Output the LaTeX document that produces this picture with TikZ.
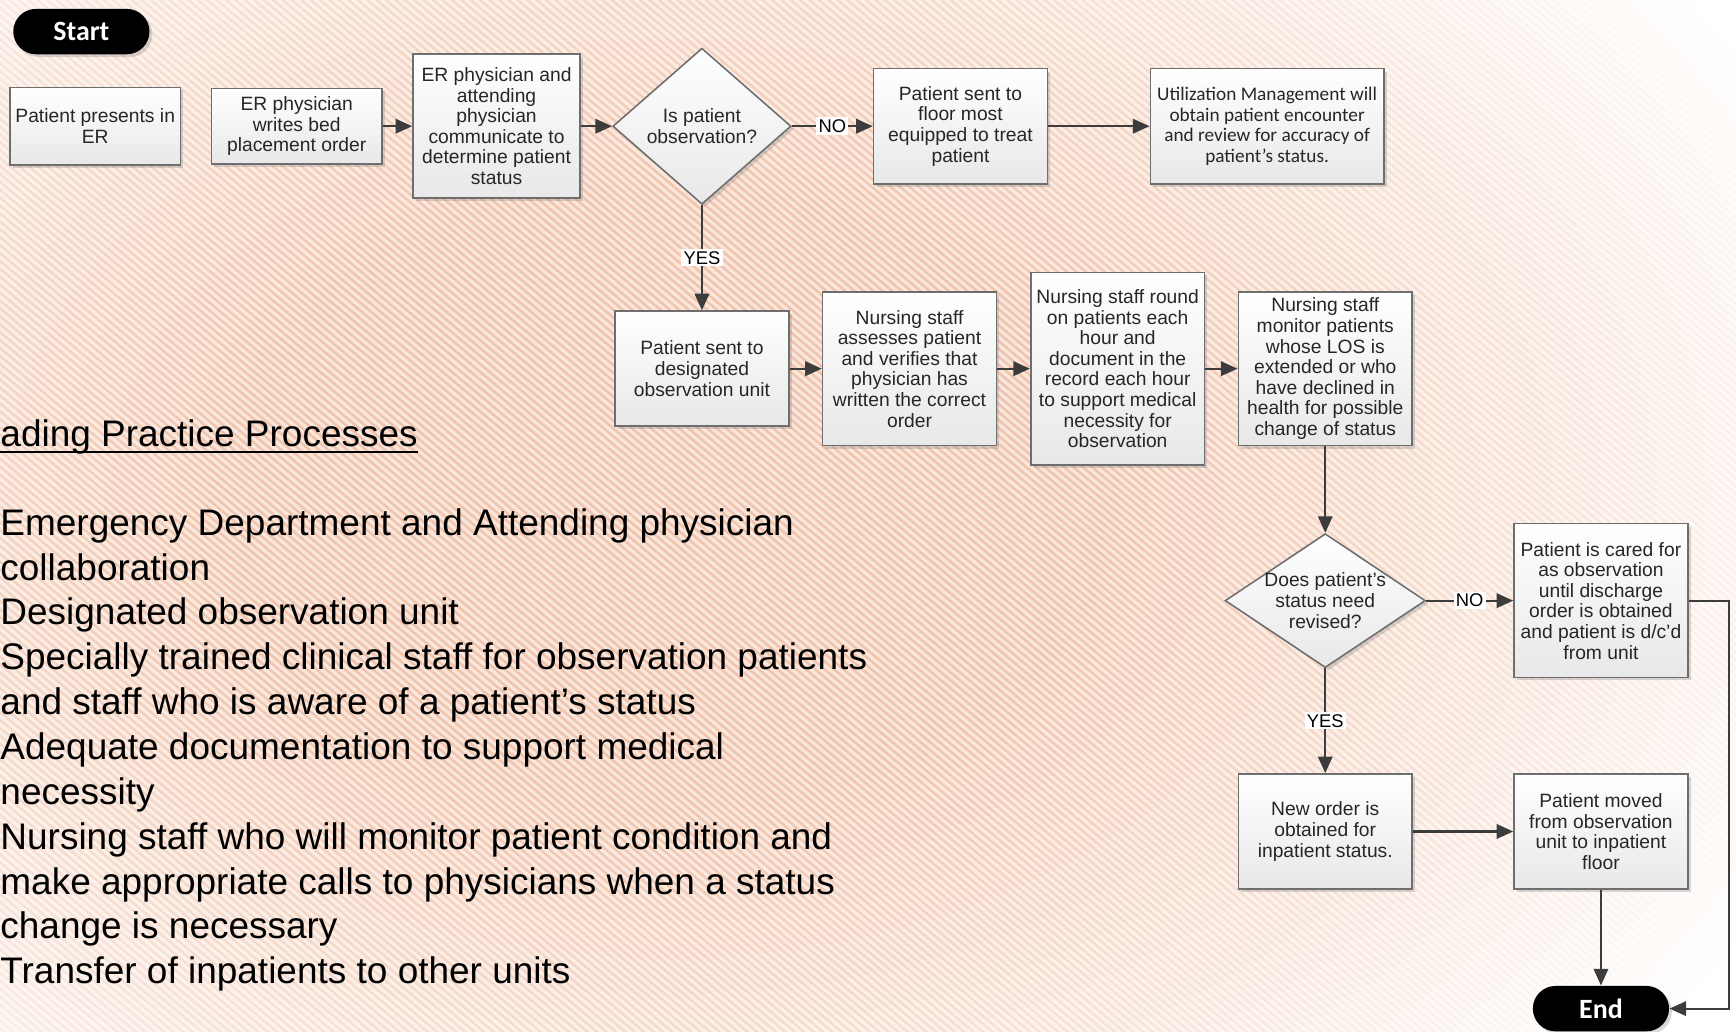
\documentclass[tikz,border=0pt]{standalone}
\usepackage{fontspec}
\setmainfont{Liberation Sans}
\newfontfamily\calfont{Carlito}
\usetikzlibrary{arrows.meta,shapes.geometric,shapes.misc,shadows}
\definecolor{glow}{RGB}{241,196,171}
\definecolor{edgegray}{RGB}{110,110,110}
\definecolor{linegray}{RGB}{60,60,60}
\definecolor{txtgray}{RGB}{38,38,38}

\begin{document}
\begin{tikzpicture}[x=0.5pt,y=-0.5pt,
  every node/.style={font=\fontsize{8.7}{9.3}\selectfont,text=txtgray},
  proc/.style={draw=edgegray,line width=.7pt,top color=white,bottom color=black!9,align=center,
    minimum width=78.5pt,inner xsep=2pt,inner ysep=1pt,
    drop shadow={shadow xshift=1.3pt,shadow yshift=-1.3pt,opacity=.3}},
  decision/.style={diamond,draw=edgegray,line width=.7pt,top color=white,bottom color=black!9,
    align=center,inner sep=0pt,
    drop shadow={shadow xshift=1.3pt,shadow yshift=-1.3pt,opacity=.3}},
  term/.style={rounded rectangle,fill=black,text=white,font=\calfont\bfseries\fontsize{12.6}{14}\selectfont,
    minimum width=61.5pt,minimum height=20.5pt,inner sep=0pt,
    drop shadow={shadow xshift=1.3pt,shadow yshift=-1.3pt,opacity=.3}},
  flow/.style={draw=linegray,line width=1pt,-{Triangle[length=7.5pt,width=6.5pt]}},
  yn/.style={fill=white,inner sep=1pt,font=\fontsize{8.3}{9}\selectfont,text=black},
  stripe/.style={white,opacity=.6,line width=1.45pt},
  listtxt/.style={anchor=base west,inner sep=0pt,text=black,font=\fontsize{16.7}{20}\selectfont}]
\useasboundingbox (0,0) rectangle (1568,932);

% background
\begin{scope}
\clip (0,0) rectangle (1568,932);
\fill[white] (0,0) rectangle (1568,932);
\foreach \k in {0,...,32}{
  \pgfmathsetmacro\r{1-\k*0.02}
  \pgfmathsetmacro\p{min(100,(1-\r)/0.64*100)}
  \fill[glow!\p!white] (600,450) ellipse [x radius={1150*\r}, y radius={800*\r}];
}
\foreach \s in {-1200,-1191.5,...,1600}
  \draw[stripe] (\s,-5) -- ++(1130,950);
\end{scope}

% terminals
\node[term] (start) at (73.5,28.5) {Start};
\node[term] (finish) at (1446,911) {End};

% first row
\node[proc,minimum width=77pt,minimum height=35pt] (presents) at (86,114) {Patient presents in\\ER};
\node[proc,minimum width=77pt,minimum height=34pt] (bedorder) at (268,114) {ER physician\\writes bed\\placement order};
\node[proc,minimum width=75.5pt,minimum height=65pt] (talk) at (448.5,114) {ER physician and\\attending\\physician\\communicate to\\determine patient\\status};
\node[decision,minimum width=80.5pt,minimum height=70.5pt] (obs) at (634,114) {Is patient\\observation?};
\node[proc,minimum height=52pt] (floor) at (867.5,114) {Patient sent to\\floor most\\equipped to treat\\patient};
\node[proc,minimum width=105.5pt,minimum height=52pt,font=\calfont\fontsize{8.7}{9.3}\selectfont] (um) at (1144.5,114) {Utilization Management will\\obtain patient encounter\\and review for accuracy of\\patient’s status.};

% second row
\node[proc,minimum height=52pt] (unit) at (634,333) {Patient sent to\\designated\\observation unit};
\node[proc,minimum height=69.5pt] (assess) at (821.5,333) {Nursing staff\\assesses patient\\and verifies that\\physician has\\written the correct\\order};
\node[proc,minimum height=87pt] (round) at (1009.5,333) {Nursing staff round\\on patients each\\hour and\\document in the\\record each hour\\to support medical\\necessity for\\observation};
\node[proc,minimum height=69.5pt] (monitor) at (1197,333) {Nursing staff\\monitor patients\\whose LOS is\\extended or who\\have declined in\\health for possible\\change of status};

% status check
\node[decision,minimum width=90.5pt,minimum height=60.5pt,inner xsep=-12pt,inner ysep=-8pt] (rev) at (1197,542.5) {Does patient’s\\status need\\revised?};
\node[proc,minimum height=69.5pt] (cared) at (1446,542.5) {Patient is cared for\\as observation\\until discharge\\order is obtained\\and patient is d/c’d\\from unit};
\node[proc,minimum height=52pt] (neworder) at (1197,751) {New order is\\obtained for\\inpatient status.};
\node[proc,minimum height=52pt] (moved) at (1446,751) {Patient moved\\from observation\\unit to inpatient\\floor};
\coordinate (rt) at (1562,542.5);

% connectors
\draw[flow] (bedorder) -- (talk);
\draw[flow] (talk) -- (obs);
\draw[flow] (obs) -- node[yn] {NO} (floor);
\draw[flow] (floor) -- (um);
\draw[flow] (obs) -- node[yn] {YES} (unit);
\draw[flow] (unit) -- (assess);
\draw[flow] (assess) -- (round);
\draw[flow] (round) -- (monitor);
\draw[flow] (monitor) -- (rev);
\draw[flow] (rev) -- node[yn] {NO} (cared);
\draw[flow] (rev) -- node[yn] {YES} (neworder);
\draw[flow] (neworder) -- (moved);
\draw[flow] (moved) -- (finish);
\draw[flow] (cared.east) -- (rt) |- (finish.east);

% leading practices
\node[listtxt] (hd) at (0,403) {ading Practice Processes};
\draw[line width=.8pt] ([yshift=-2.5pt]hd.base west) -- ([yshift=-2.5pt]hd.base east);
\foreach \t [count=\i] in {Emergency Department and Attending physician,collaboration,Designated observation unit,Specially trained clinical staff for observation patients,and staff who is aware of a patient’s status,Adequate documentation to support medical,necessity,Nursing staff who will monitor patient condition and,make appropriate calls to physicians when a status,change is necessary,Transfer of inpatients to other units}
  \node[listtxt] (ln\i) at (0,{443+40.5*\i}) {\t};
\end{tikzpicture}
\end{document}
